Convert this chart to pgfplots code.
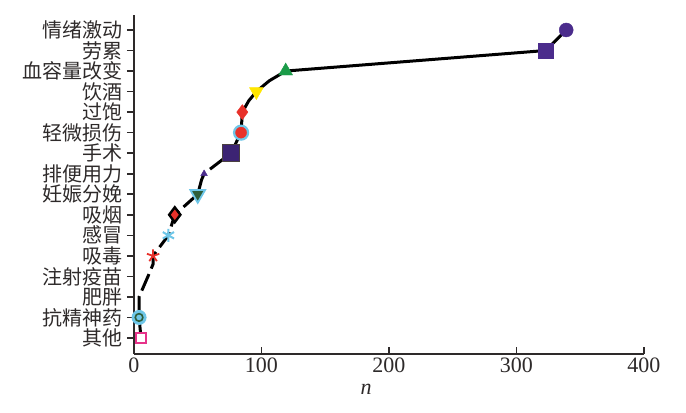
\documentclass[border=0pt]{standalone}
\usepackage{pgfplots}
\pgfplotsset{compat=1.18}
\usepackage{fontspec}
\setmainfont{Liberation Serif}
\newfontfamily\cjk{Noto Sans CJK SC}
\definecolor{txt}{HTML}{2E2A2A}
\definecolor{cpink}{HTML}{E6338A}
\definecolor{clblue}{HTML}{6EC6E8}
\definecolor{cdgreen}{HTML}{2E5E3A}
\definecolor{cred}{HTML}{E8312A}
\definecolor{cdpurple}{HTML}{3C2373}
\definecolor{cborder}{HTML}{4A4040}
\definecolor{cyellow}{HTML}{FFE600}
\definecolor{cgreen}{HTML}{1A9B48}
\definecolor{cpurple}{HTML}{4B2C8C}
\begin{document}
\begin{tikzpicture}
\begin{axis}[
  scale only axis, width=510pt, height=339pt,
  xmin=0, xmax=400, ymin=-0.78, ymax=15.73,
  axis x line=bottom, axis y line=left,
  axis line style={-, line width=1.8pt, txt},
  xtick={0,100,200,300,400},
  ytick={0,...,15},
  yticklabels={其他,抗精神药,肥胖,注射疫苗,吸毒,感冒,吸烟,妊娠分娩,排便用力,手术,轻微损伤,过饱,饮酒,血容量改变,劳累,情绪激动},
  yticklabel style={font=\cjk\fontsize{20}{21}\selectfont, text=txt, xshift=-1pt},
  xticklabel style={font=\fontsize{22}{24}\selectfont, text=txt},
  /pgf/number format/assume math mode=true,
  xtick align=inside, ytick align=outside,
  major tick length=7pt,
  tick style={line width=1.6pt, txt},
  xlabel={\textit{n}},
  xlabel style={font=\fontsize{22}{24}\selectfont, text=txt, at={(rel axis cs:0.455,0)}, anchor=north, yshift=-27pt},
  clip=false,
]
\path (rel axis cs:-0.2627,-0.174) rectangle (rel axis cs:1.0824,1.0442);
% line, lower dashed part
\addplot[black, line width=3pt, dash pattern=on 18pt off 6pt] coordinates {
 (5.5,0) (4,1) (4,2) (11,3) (15,3.6) (15,4) (27,5) (32,6) (50,7) (53,7.7) (55,8) (76,9)};
% upper solid part
\addplot[black, line width=3pt] coordinates {
 (76,9) (84,10) (85,11) (90,11.55) (96,12) (106,12.52) (119,13) (323,14) (339,15)};
% markers
\addplot[only marks, mark=square*, mark size=4.8pt, draw=cpink, fill=white, line width=2.2pt] coordinates {(5.5,0)};
\addplot[only marks, mark=*, mark size=7pt, draw=clblue, fill=clblue, line width=1pt] coordinates {(4,1)};
\addplot[only marks, mark=o, mark size=3.8pt, draw=cdgreen, line width=1.6pt] coordinates {(4,1)};
\addplot[only marks, mark=star, mark size=6.5pt, draw=cred, line width=1.8pt] coordinates {(15,4)};
\addplot[only marks, mark=asterisk, mark size=6.5pt, draw=clblue, line width=2pt] coordinates {(27,5)};
\addplot[only marks, mark=diamond*, mark size=7.5pt, draw=black, fill=cred, line width=2.4pt] coordinates {(32,6)};
\addplot[only marks, mark=triangle*, mark options={rotate=180}, mark size=8.5pt, draw=clblue, fill=cdgreen, line width=1.8pt] coordinates {(50,7)};
\addplot[only marks, mark=triangle*, mark size=3.8pt, draw=cpurple, fill=cpurple] coordinates {(55,8)};
\addplot[only marks, mark=square*, mark size=8.5pt, draw=cborder, fill=cdpurple, line width=1.4pt] coordinates {(76,9)};
\addplot[only marks, mark=*, mark size=7pt, draw=clblue, fill=cred, line width=2.2pt] coordinates {(84,10)};
\addplot[only marks, mark=diamond*, mark size=7.5pt, draw=cred, fill=cred] coordinates {(85,11)};
\addplot[only marks, mark=triangle*, mark options={rotate=180}, mark size=8pt, draw=cyellow, fill=cyellow] coordinates {(96,12)};
\addplot[only marks, mark=triangle*, mark size=8pt, draw=cgreen, fill=cgreen] coordinates {(119,13)};
\addplot[only marks, mark=square*, mark size=7.5pt, draw=cpurple, fill=cpurple] coordinates {(323,14)};
\addplot[only marks, mark=*, mark size=7pt, draw=cpurple, fill=cpurple] coordinates {(339,15)};
\end{axis}
\end{tikzpicture}
\end{document}
